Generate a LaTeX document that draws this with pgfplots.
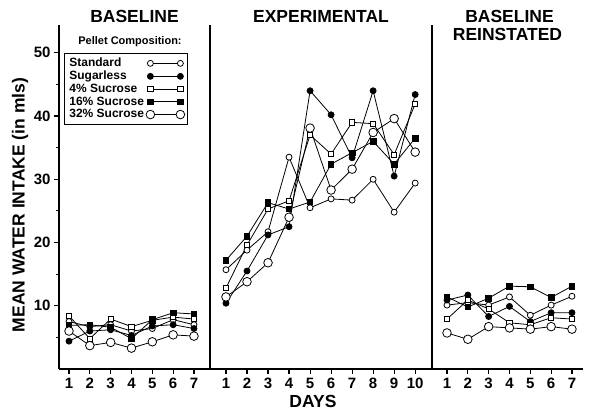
\documentclass[border=0pt]{standalone}
\usepackage{fontspec}
\setmainfont{Liberation Sans}
\usepackage{pgfplots}
\pgfplotsset{compat=1.18}

\pgfplotsset{
  panel/.style={
    scale only axis, anchor=south west, height=344pt,
    ymin=0, ymax=54.4,
    axis x line*=bottom, axis y line*=left,
    tick align=outside,
    major tick length=5pt, minor tick length=3pt,
    axis line style={line width=1.2pt},
    every tick/.style={black, line width=1.1pt},
    xtick={1,...,10},
    /pgf/number format/assume math mode=true,
    ticklabel style={font=\bfseries\fontsize{15}{15}\selectfont},
    xticklabel style={yshift=-1pt},
    clip=false,
  },
  std/.style={black, line width=0.8pt, mark=*, mark size=3pt, mark options={fill=white, solid}},
  sugl/.style={black, line width=0.8pt, mark=*, mark size=3pt, mark options={fill=black, solid}},
  four/.style={black, line width=0.8pt, mark=square*, mark size=2.7pt, mark options={fill=white, solid}},
  sixteen/.style={black, line width=0.8pt, mark=square*, mark size=2.8pt, mark options={fill=black, solid}},
  thirtytwo/.style={black, line width=0.8pt, mark=*, mark size=4.3pt, mark options={fill=white, solid}},
}

\begin{document}
\begin{tikzpicture}
\useasboundingbox (0pt,0pt) rectangle (590pt,411pt);

% baseline
\begin{axis}[panel, at={(59pt,42pt)}, width=151pt,
  xmin=0.52, xmax=7.77,
  ytick={10,20,30,40,50}, minor ytick={5,15,25,35,45},
  legend style={at={(0.033,0.919)}, anchor=north west, draw=black, line width=0.8pt,
    font=\bfseries\fontsize{12}{12}\selectfont, legend cell align=left,
    row sep=-1.2pt, inner sep=3pt},
  legend plot pos=right,
  legend image code/.code={\draw[#1] plot coordinates {(0pt,0pt) (30pt,0pt)};},
]
\addplot[std] coordinates {(1,7.5) (2,6.7) (3,7.0) (4,6.0) (5,6.4) (6,7.8) (7,7.0)};
\addlegendentry{Standard}
\addplot[sugl] coordinates {(1,4.4) (2,6.0) (3,6.2) (4,5.3) (5,6.8) (6,7.0) (7,6.4)};
\addlegendentry{Sugarless}
\addplot[four] coordinates {(1,8.4) (2,4.8) (3,7.9) (4,6.7) (5,7.7) (6,8.2) (7,7.9)};
\addlegendentry{4\% Sucrose}
\addplot[sixteen] coordinates {(1,6.9) (2,7.0) (3,6.6) (4,4.8) (5,7.8) (6,8.9) (7,8.7)};
\addlegendentry{16\% Sucrose}
\addplot[thirtytwo] coordinates {(1,6.0) (2,3.7) (3,4.2) (4,3.3) (5,4.3) (6,5.4) (7,5.2)};
\addlegendentry{32\% Sucrose}
\end{axis}

% experimental
\begin{axis}[panel, at={(210pt,42pt)}, width=222pt,
  xmin=0.24, xmax=10.8, ytick=\empty]
\addplot[std] coordinates {(1,15.7) (2,18.8) (3,21.7) (4,33.5) (5,25.5) (6,26.9) (7,26.7) (8,30.0) (9,24.8) (10,29.4)};
\addplot[sugl] coordinates {(1,10.4) (2,15.5) (3,21.2) (4,22.5) (5,44.0) (6,40.2) (7,33.4) (8,44.0) (9,30.5) (10,43.4)};
\addplot[four] coordinates {(1,12.8) (2,19.6) (3,25.3) (4,26.6) (5,37.0) (6,34.0) (7,39.0) (8,38.8) (9,33.9) (10,41.9)};
\addplot[sixteen] coordinates {(1,17.2) (2,21.0) (3,26.3) (4,25.3) (5,26.4) (6,32.4) (7,34.2) (8,36.0) (9,32.4) (10,36.5)};
\addplot[thirtytwo] coordinates {(1,11.4) (2,13.8) (3,16.8) (4,24.0) (5,38.1) (6,28.3) (7,31.6) (8,37.4) (9,39.6) (10,34.3)};
\end{axis}

% baseline reinstated
\begin{axis}[panel, at={(432pt,42pt)}, width=151pt,
  xmin=0.28, xmax=7.53, ytick=\empty]
\addplot[std] coordinates {(1,10.1) (2,10.5) (3,10.1) (4,11.4) (5,8.5) (6,10.1) (7,11.5)};
\addplot[sugl] coordinates {(1,10.9) (2,11.7) (3,8.3) (4,9.9) (5,7.5) (6,8.9) (7,8.9)};
\addplot[four] coordinates {(1,7.9) (2,10.9) (3,9.5) (4,7.3) (5,7.0) (6,8.1) (7,7.9)};
\addplot[sixteen] coordinates {(1,11.4) (2,9.8) (3,11.2) (4,13.1) (5,13.0) (6,11.3) (7,13.1)};
\addplot[thirtytwo] coordinates {(1,5.7) (2,4.7) (3,6.7) (4,6.5) (5,6.3) (6,6.7) (7,6.3)};
\end{axis}

\begin{scope}[every node/.style={font=\bfseries\fontsize{17.5}{19}\selectfont}]
\node[anchor=base] at (134.5pt,388pt) {BASELINE};
\node[anchor=base] at (321pt,388pt) {EXPERIMENTAL};
\node[anchor=base] at (509.5pt,388pt) {BASELINE};
\node[anchor=base] at (507.5pt,370pt) {REINSTATED};
\node[anchor=base] at (313pt,3pt) {DAYS};
\node[rotate=90] at (20pt,206pt) {MEAN WATER INTAKE (in mls)};
\end{scope}
\node[font=\bfseries\fontsize{11}{11}\selectfont] at (130pt,369pt) {Pellet Composition:};
\end{tikzpicture}
\end{document}
